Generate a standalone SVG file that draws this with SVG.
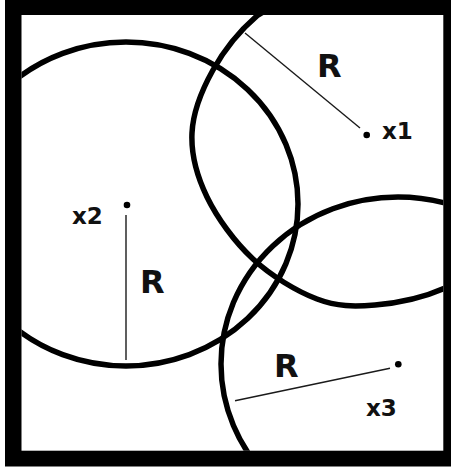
<svg xmlns="http://www.w3.org/2000/svg" width="451" height="468" viewBox="0 0 451 468">
  <style>
    .ring { fill: none; stroke: #000; stroke-width: 5.5; }
    .radius { stroke: #1a1a1a; stroke-width: 1.4; fill: none; }
    .dot { fill: #000; }
    .lbl { font-family: "DejaVu Sans", "Liberation Sans", sans-serif; font-weight: bold; fill: #111; }
    .x { font-size: 23px; }
    .r { font-size: 32px; }
  </style>
  <defs>
    <clipPath id="inner">
      <rect x="21.5" y="15" width="421.8" height="435.7"/>
    </clipPath>
  </defs>
  <rect x="0" y="0" width="451" height="468" fill="#fff"/>
  <rect x="5" y="0" width="446" height="466.5" fill="#000"/>
  <rect x="21.5" y="15" width="421.8" height="435.7" fill="#fff"/>

  <g clip-path="url(#inner)">
    <g id="node-x1">
      <path class="ring" d="M318.6 -20 L258 15 C240.4 30 224 50.3 213 70 C202 89.7 193 111.8 192 133 C191 154.2 196.8 176 207 197 C217.2 218 234.7 242 253 259 C271.3 276 296.7 291.3 317 299 C337.3 306.7 353.7 306.8 375 305 C396.3 303.2 423.8 297.5 445 288 L502 248"/>
      <line class="radius" x1="245" y1="33" x2="360" y2="128"/>
      <circle class="dot" cx="366.7" cy="135" r="3.3"/>
      <text class="lbl r" x="317" y="77">R</text>
      <text class="lbl x" x="382" y="139">x1</text>
    </g>
    <g id="node-x2">
      <ellipse class="ring" cx="126" cy="204" rx="172" ry="162"/>
      <line class="radius" x1="126" y1="215" x2="126" y2="360"/>
      <circle class="dot" cx="127" cy="205" r="3.3"/>
      <text class="lbl r" x="140" y="292.7">R</text>
      <text class="lbl x" x="72" y="224">x2</text>
    </g>
    <g id="node-x3">
      <ellipse class="ring" cx="398" cy="364" rx="177" ry="167"/>
      <line class="radius" x1="235" y1="400.7" x2="390" y2="368.3"/>
      <circle class="dot" cx="398.3" cy="364.3" r="3.3"/>
      <text class="lbl r" x="274" y="376.7">R</text>
      <text class="lbl x" x="366" y="416">x3</text>
    </g>
  </g>
  <g id="connectors"></g>
</svg>
